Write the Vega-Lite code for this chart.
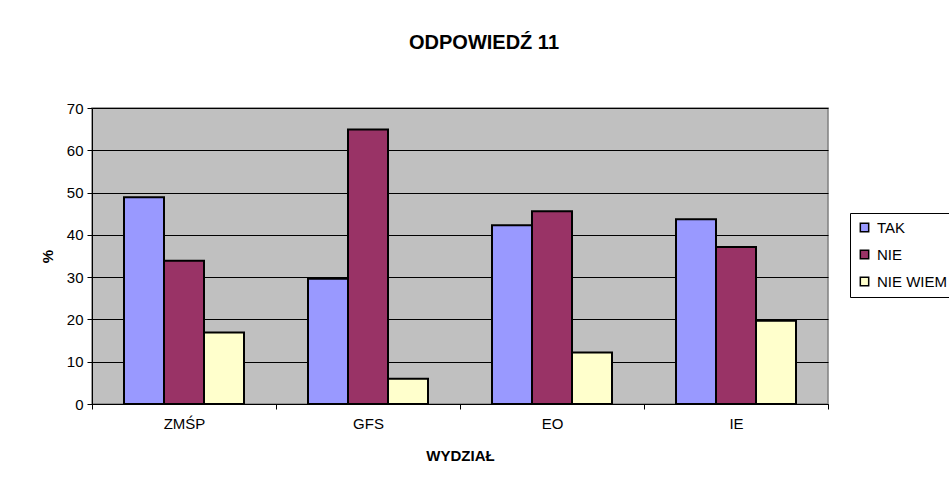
{
  "$schema": "https://vega.github.io/schema/vega-lite/v6.json",
  "width": 736,
  "height": 296,
  "autosize": {"type": "none"},
  "padding": {"left": 92, "top": 108, "right": 121, "bottom": 87},
  "background": "white",
  "title": {
    "text": "ODPOWIEDŹ 11",
    "font": "Liberation Sans",
    "fontSize": 20,
    "fontWeight": "bold",
    "color": "black",
    "anchor": "middle",
    "frame": "group",
    "baseline": "alphabetic",
    "dx": 24,
    "offset": 32
  },
  "data": {
    "values": [
      {"wydzial": "ZMŚP", "odp": "TAK", "pct": 48.9},
      {"wydzial": "ZMŚP", "odp": "NIE", "pct": 33.9},
      {"wydzial": "ZMŚP", "odp": "NIE WIEM", "pct": 16.9},
      {"wydzial": "GFS", "odp": "TAK", "pct": 29.6},
      {"wydzial": "GFS", "odp": "NIE", "pct": 64.9},
      {"wydzial": "GFS", "odp": "NIE WIEM", "pct": 6.0},
      {"wydzial": "EO", "odp": "TAK", "pct": 42.3},
      {"wydzial": "EO", "odp": "NIE", "pct": 45.6},
      {"wydzial": "EO", "odp": "NIE WIEM", "pct": 12.2},
      {"wydzial": "IE", "odp": "TAK", "pct": 43.7},
      {"wydzial": "IE", "odp": "NIE", "pct": 37.1},
      {"wydzial": "IE", "odp": "NIE WIEM", "pct": 19.7}
    ]
  },
  "mark": {"type": "bar", "stroke": "black", "strokeWidth": 2},
  "encoding": {
    "x": {
      "field": "wydzial",
      "type": "nominal",
      "sort": ["ZMŚP", "GFS", "EO", "IE"],
      "scale": {"paddingInner": 0, "paddingOuter": 0},
      "axis": {
        "title": "WYDZIAŁ",
        "labelAngle": 0,
        "tickBand": "extent",
        "grid": false,
        "domainColor": "black",
        "tickColor": "black",
        "tickSize": 5,
        "labelPadding": 7,
        "labelFont": "Liberation Sans",
        "labelFontSize": 15,
        "labelColor": "black",
        "titleFont": "Liberation Sans",
        "titleFontSize": 15,
        "titleFontWeight": "bold",
        "titleColor": "black",
        "titlePadding": 17
      }
    },
    "xOffset": {
      "field": "odp",
      "type": "nominal",
      "sort": ["TAK", "NIE", "NIE WIEM"],
      "scale": {"paddingInner": 0, "paddingOuter": 0.8}
    },
    "y": {
      "field": "pct",
      "type": "quantitative",
      "scale": {"domain": [0, 70], "nice": false},
      "axis": {
        "title": "%",
        "values": [0, 10, 20, 30, 40, 50, 60, 70],
        "grid": true,
        "gridColor": "black",
        "gridOpacity": 1,
        "domainColor": "black",
        "tickColor": "black",
        "tickSize": 5,
        "labelPadding": 4,
        "labelFont": "Liberation Sans",
        "labelFontSize": 15,
        "labelColor": "black",
        "titleFont": "Liberation Sans",
        "titleFontSize": 15,
        "titleFontWeight": "bold",
        "titleColor": "black",
        "titlePadding": 11
      }
    },
    "color": {
      "field": "odp",
      "type": "nominal",
      "scale": {"domain": ["TAK", "NIE", "NIE WIEM"], "range": ["#9999FF", "#993366", "#FFFFCC"]},
      "legend": {
        "title": null,
        "orient": "none",
        "legendX": 758,
        "legendY": 105,
        "padding": 7,
        "rowPadding": 11,
        "symbolType": "square",
        "symbolSize": 70,
        "symbolStrokeColor": "black",
        "symbolStrokeWidth": 1.5,
        "labelFont": "Liberation Sans",
        "labelFontSize": 15,
        "labelColor": "black",
        "labelOffset": 5,
        "strokeColor": "black",
        "fillColor": "white"
      }
    }
  },
  "config": {
    "view": {"fill": "#C0C0C0", "stroke": "#808080", "strokeWidth": 1.5}
  }
}
